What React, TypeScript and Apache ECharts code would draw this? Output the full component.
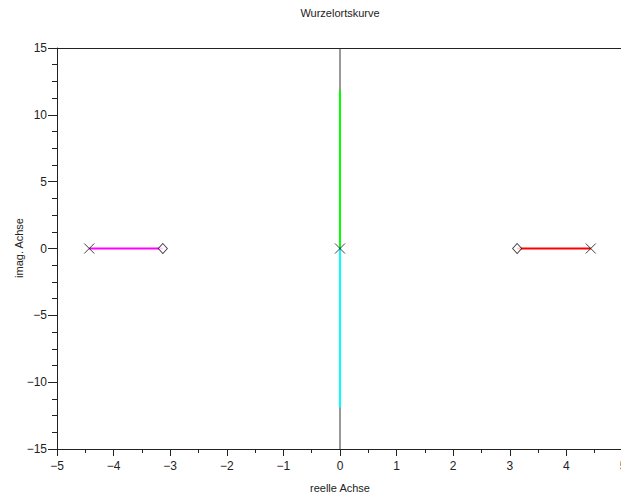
import React, { useEffect, useRef } from "react";
import * as echarts from "echarts";

// Poles (×) and zeros (◇) of the open loop
const poles: [number, number][] = [[-4.43, 0], [0, 0], [4.43, 0]];
const zeros: [number, number][] = [[-3.13, 0], [3.13, 0]];

// Root locus branches
const branchLeft: [number, number][] = [[-4.43, 0], [-3.13, 0]];
const branchUp: [number, number][] = [[0, 0], [0, 11.85]];
const branchDown: [number, number][] = [[0, 0], [0, -11.9]];
const branchRight: [number, number][] = [[3.13, 0], [4.43, 0]];

// Imaginary axis line
const imagAxis: [number, number][] = [[0, -15], [0, 15]];

const xTicks = { min: -5, max: 5, step: 1 };
const yTicks = { min: -15, max: 15, step: 5 };

const title = "Wurzelortskurve";
const xName = "reelle Achse";
const yName = "imag. Achse";

const FONT = "Liberation Sans, Arial, Helvetica, sans-serif";
const minus = (v: number) => String(v).replace("-", "\u2212");

export default function App() {
  const ref = useRef<HTMLDivElement>(null);

  useEffect(() => {
    document.body.style.margin = "0";
    document.body.style.overflow = "hidden";
    const chart = echarts.init(ref.current!, undefined, { renderer: "svg" });
    const branch = (data: [number, number][], color: string) => ({
      type: "line",
      data,
      symbol: "none",
      lineStyle: { color, width: 2 },
      z: 3,
    });
    chart.setOption({
      animation: false,
      backgroundColor: "#fff",
      textStyle: { fontFamily: FONT },
      grid: {
        left: 57,
        right: 17,
        top: 48,
        bottom: 48,
        containLabel: false,
        outerBoundsMode: "none",
      },
      graphic: [
        {
          type: "text",
          x: 340,
          y: 13,
          style: {
            text: title,
            fontFamily: FONT,
            fontSize: 11,
            fill: "#222",
            textAlign: "center",
            textVerticalAlign: "middle",
          },
        },
        {
          // rotated y-axis title
          type: "text",
          x: 19,
          y: 248,
          rotation: Math.PI / 2,
          style: {
            text: yName,
            fontFamily: FONT,
            fontSize: 11,
            fill: "#222",
            textAlign: "center",
            textVerticalAlign: "middle",
          },
        },
      ],
      xAxis: [
        {
          type: "value",
          min: xTicks.min,
          max: xTicks.max,
          interval: xTicks.step,
          name: xName,
          nameLocation: "middle",
          nameGap: 33,
          nameTextStyle: { fontSize: 11, color: "#222", fontFamily: FONT },
          axisLine: { show: true, onZero: false, lineStyle: { color: "#222", width: 1 } },
          axisTick: { show: true, length: 7, lineStyle: { color: "#222" } },
          minorTick: { show: true, splitNumber: 2, length: 4, lineStyle: { color: "#222" } },
          axisLabel: {
            fontSize: 12,
            color: "#222",
            margin: 11,
            fontFamily: FONT,
            formatter: minus,
          },
          splitLine: { show: false },
        },
        {
          type: "value",
          position: "top",
          min: xTicks.min,
          max: xTicks.max,
          axisLine: { show: true, onZero: false, lineStyle: { color: "#222", width: 1 } },
          axisTick: { show: false },
          axisLabel: { show: false },
          splitLine: { show: false },
        },
      ],
      yAxis: {
        type: "value",
        min: yTicks.min,
        max: yTicks.max,
        interval: yTicks.step,
        axisLine: { show: true, onZero: false, lineStyle: { color: "#222", width: 1 } },
        axisTick: { show: true, length: 9, lineStyle: { color: "#222" } },
        minorTick: { show: true, splitNumber: 4, length: 5, lineStyle: { color: "#222" } },
        axisLabel: {
          fontSize: 12,
          color: "#222",
          margin: 10,
          fontFamily: FONT,
          formatter: minus,
        },
        splitLine: { show: false },
      },
      series: [
        {
          type: "line",
          data: imagAxis,
          symbol: "none",
          lineStyle: { color: "#333", width: 1 },
          z: 2,
        },
        branch(branchLeft, "#ff00ff"),
        branch(branchUp, "#00ff00"),
        branch(branchDown, "#00ffff"),
        branch(branchRight, "#ff0000"),
        {
          type: "scatter",
          data: poles,
          symbol: "path://M0,0L10,10M10,0L0,10",
          symbolSize: 10,
          itemStyle: { color: "none", borderColor: "#111", borderWidth: 1 },
          z: 5,
        },
        {
          type: "scatter",
          data: zeros,
          symbol: "diamond",
          symbolSize: [9, 10],
          itemStyle: { color: "#fff", borderColor: "#111", borderWidth: 1 },
          z: 5,
        },
      ],
    });
    return () => chart.dispose();
  }, []);

  return (
    <div style={{ width: 621, height: 497, overflow: "hidden", position: "relative" }}>
      <div ref={ref} style={{ width: 640, height: 497 }} />
    </div>
  );
}
